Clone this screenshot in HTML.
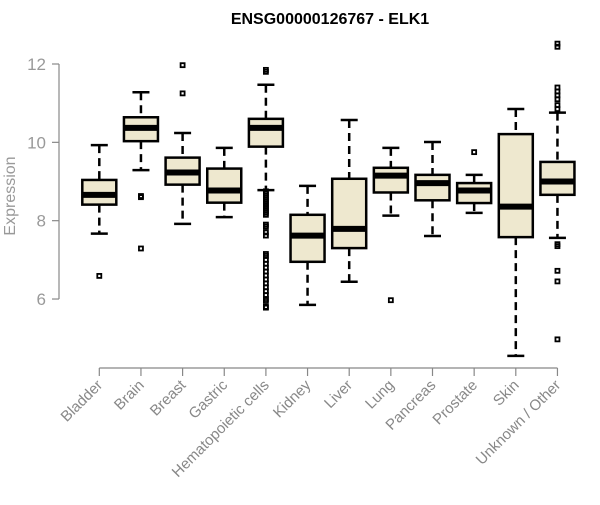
<!DOCTYPE html>
<html><head><meta charset="utf-8"><style>
body{margin:0;background:#fff}
svg{font-family:"Liberation Sans",Arial,sans-serif}
</style></head><body>
<svg id="chart" width="600" height="500">
<text x="330" y="24" text-anchor="middle" font-weight="bold" font-size="16" fill="#000">ENSG00000126767 - ELK1</text>
<text transform="translate(15,196) rotate(-90)" text-anchor="middle" font-size="16" fill="#999">Expression</text>
<g id="yaxis"></g>
<g id="xaxis"></g>
<g id="boxes"></g>
</svg>
<script>
const categories=["Bladder","Brain","Breast","Gastric","Hematopoietic cells","Kidney","Liver","Lung","Pancreas","Prostate","Skin","Unknown / Other"];
const whiskerLow=[7.67,9.29,7.92,8.09,8.78,5.85,6.44,8.13,7.61,8.2,4.55,7.56];
const q1=[8.41,10.03,8.92,8.46,9.89,6.95,7.30,8.72,8.52,8.45,7.58,8.66];
const median=[8.66,10.37,9.23,8.77,10.37,7.62,7.79,9.15,8.96,8.77,8.36,9.0];
const q3=[9.04,10.64,9.61,9.33,10.6,8.15,9.07,9.35,9.17,8.96,10.21,9.5];
const whiskerHigh=[9.93,11.28,10.24,9.86,11.47,8.89,10.57,9.86,10.01,9.17,10.85,10.76];
const outliers=[[6.59],[8.63,8.6,7.29],[11.97,11.25],[],
[11.8,11.85,8.75,8.7,8.65,8.6,8.55,8.5,8.45,8.4,8.35,8.3,8.25,8.2,8.15,7.9,7.85,7.7,7.62,7.15,7.1,7.0,6.9,6.8,6.7,6.6,6.5,6.4,6.3,6.2,6.1,6.0,5.95,5.8,5.78],
[],[],[5.97],[],[9.75],[],
[12.52,12.44,11.4,11.3,11.2,11.1,10.95,10.85,7.4,7.35,6.72,6.45,4.97]];
const yTicks=[6,8,10,12];

const NS="http://www.w3.org/2000/svg";
const Y=v=>64+(12-v)*39.17;
const X=i=>99.3+i*41.65;
function mk(tag,attrs,parent){const e=document.createElementNS(NS,tag);for(const k in attrs)e.setAttribute(k,attrs[k]);parent.appendChild(e);return e;}
const ya=document.getElementById('yaxis'),xa=document.getElementById('xaxis'),bx=document.getElementById('boxes');
let l=mk('line',{x1:59,x2:59,y1:Y(12),y2:Y(6),stroke:'#888','stroke-width':1.2},ya);


yTicks.forEach(t=>{
 let tk=mk('line',{x1:52,x2:59,y1:Y(t),y2:Y(t),stroke:'#888','stroke-width':1.2},ya);
 
 
 let tx=mk('text',{x:46,y:Y(t)+6,'text-anchor':'end','font-size':17,fill:'#999'},ya);
 tx.textContent=t;
 
 
});
let xl=mk('line',{x1:X(0),x2:X(11),y1:368,y2:368,stroke:'#888','stroke-width':1.2},xa);


categories.forEach((c,i)=>{
 const x=X(i);
 let tk=mk('line',{x1:x,x2:x,y1:368,y2:376,stroke:'#888','stroke-width':1.2},xa);
 
 
 let tx=mk('text',{x:0,y:0,transform:`translate(${x+4},${386}) rotate(-45)`,'text-anchor':'end','font-size':15,fill:'#888'},xa);
 tx.textContent=c;
 
 
 const g=mk('g',{},bx);
 
 
 const hw=17,cw=8.5;
 mk('line',{x1:x,x2:x,y1:Y(whiskerHigh[i]),y2:Y(q3[i]),stroke:'#000','stroke-width':2.5,'stroke-dasharray':'8,5'},g);
 mk('line',{x1:x,x2:x,y1:Y(q1[i]),y2:Y(whiskerLow[i]),stroke:'#000','stroke-width':2.5,'stroke-dasharray':'8,5'},g);
 mk('line',{x1:x-cw,x2:x+cw,y1:Y(whiskerHigh[i]),y2:Y(whiskerHigh[i]),stroke:'#000','stroke-width':2.5},g);
 mk('line',{x1:x-cw,x2:x+cw,y1:Y(whiskerLow[i]),y2:Y(whiskerLow[i]),stroke:'#000','stroke-width':2.5},g);
 mk('rect',{x:x-hw,y:Y(q3[i]),width:2*hw,height:Y(q1[i])-Y(q3[i]),fill:'#EEE8CF',stroke:'#000','stroke-width':2.5},g);
 mk('line',{x1:x-hw,x2:x+hw,y1:Y(median[i]),y2:Y(median[i]),stroke:'#000','stroke-width':6},g);
 outliers[i].forEach(v=>{
  let o=mk('rect',{x:x-2,y:Y(v)-2,width:4,height:4,fill:'none',stroke:'#000','stroke-width':1.8},g);
  
  
 });
});
</script>
</body></html>
